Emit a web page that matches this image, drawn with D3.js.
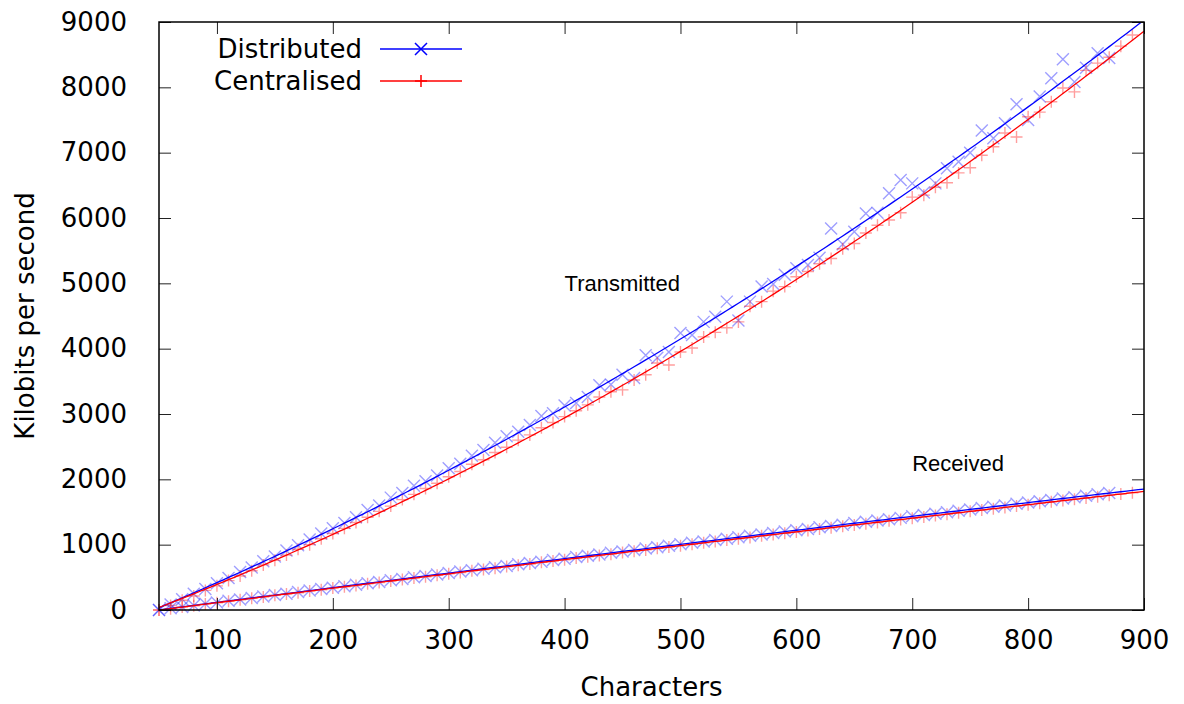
<!DOCTYPE html>
<html><head><meta charset="utf-8">
<script src="https://cdn.jsdelivr.net/npm/d3@7"></script>
<style>body{margin:0;background:#fff;} svg{display:block;}</style>
</head><body>
<svg id="c" width="1184" height="704"></svg>
<script>
// ---- data ----
const xDist = [50,60,70,80,90,100,110,120,130,140,150,160,170,180,190,200,210,220,230,240,250,260,270,280,290,300,310,320,330,340,350,360,370,380,390,400,410,420,430,440,450,460,470,480,490,500,510,520,530,540,550,560,570,580,590,600,610,620,630,640,650,660,670,680,690,700,710,720,730,740,750,760,770,780,790,800,810,820,830,840,850,860,870];
const xCent = [50,60,70,80,90,100,110,120,130,140,150,160,170,180,190,200,210,220,230,240,250,260,270,280,290,300,310,320,330,340,350,360,370,380,390,400,410,420,430,440,450,460,470,480,490,500,510,520,530,540,550,560,570,580,590,600,610,620,630,640,650,660,670,680,690,700,710,720,730,740,750,760,770,780,790,800,810,820,830,840,850,860,870,880,890];
const txDist = [0,85,165,250,320,410,490,580,650,745,820,910,990,1080,1170,1250,1330,1420,1530,1600,1720,1790,1900,1970,2060,2170,2240,2360,2450,2560,2660,2730,2830,2970,3010,3130,3170,3260,3440,3450,3600,3550,3900,3860,3950,4240,4210,4410,4490,4720,4430,4720,4950,4990,5130,5230,5280,5390,5840,5600,5790,6070,6080,6380,6580,6530,6390,6530,6760,6860,7000,7340,7220,7450,7740,7500,7860,8140,8430,8080,8300,8520,8450];
const txCent = [0,70,150,215,300,370,450,520,600,690,760,840,930,1000,1090,1170,1250,1340,1420,1510,1590,1690,1770,1860,1940,2040,2120,2230,2300,2410,2490,2600,2680,2790,2870,2960,3050,3140,3260,3340,3370,3520,3600,3780,3750,3950,4010,4180,4250,4320,4410,4650,4720,4880,4950,5100,5180,5300,5380,5530,5610,5770,5890,5970,6080,6320,6350,6470,6540,6690,6770,6960,7090,7300,7240,7550,7620,7780,7990,7930,8260,8370,8460,8630,8800];
const rxDist = [0,25,45,70,95,115,140,160,185,205,230,250,275,300,320,340,365,385,410,430,455,475,500,520,545,565,590,610,630,655,675,700,720,740,765,785,810,830,850,875,895,920,940,960,985,1005,1030,1050,1070,1090,1115,1135,1155,1180,1200,1220,1240,1265,1285,1305,1330,1350,1370,1390,1410,1435,1455,1475,1495,1520,1540,1560,1580,1600,1625,1645,1665,1685,1705,1725,1750,1770,1790];
const rxCent = [0,20,45,65,90,110,135,155,180,200,225,245,265,290,310,335,355,375,400,420,445,465,490,510,530,555,575,600,620,640,665,685,705,730,750,770,795,815,835,855,880,900,920,945,965,985,1005,1030,1050,1070,1090,1110,1135,1155,1175,1195,1215,1240,1260,1280,1300,1320,1340,1365,1385,1405,1425,1445,1465,1490,1510,1530,1550,1570,1590,1610,1635,1655,1675,1695,1715,1735,1755,1775,1795];
const xTicks = [100,200,300,400,500,600,700,800,900];
const yTicks = [0,1000,2000,3000,4000,5000,6000,7000,8000,9000];
const legendLabels = ["Distributed","Centralised"];
const annotations = [{text:"Transmitted", x:400, y:5000},{text:"Received", x:700, y:2250}];

// ---- layout ----
const L=159, R=1144, T=22, B=610;
const svg = d3.select("#c");
const x = d3.scaleLinear().domain([50,900]).range([L,R]);
const y = d3.scaleLinear().domain([0,9000]).range([B,T]);
const FONT = "'DejaVu Sans', sans-serif";
const FS = 26;

// quadratic least-squares fit
function quadFit(xs, ys){
  let S=[[0,0,0],[0,0,0],[0,0,0]], v=[0,0,0];
  xs.forEach((xi,i)=>{const p=[1,xi,xi*xi]; for(let a=0;a<3;a++){v[a]+=p[a]*ys[i]; for(let b=0;b<3;b++) S[a][b]+=p[a]*p[b];}});
  const M=S.map((r,i)=>[...r,v[i]]);
  for(let i=0;i<3;i++){let mx=i;for(let k=i+1;k<3;k++) if(Math.abs(M[k][i])>Math.abs(M[mx][i])) mx=k; [M[i],M[mx]]=[M[mx],M[i]];
    for(let k=i+1;k<3;k++){const f=M[k][i]/M[i][i]; for(let j=i;j<4;j++) M[k][j]-=f*M[i][j];}}
  const c=[0,0,0]; for(let i=2;i>=0;i--){let s=M[i][3]; for(let j=i+1;j<3;j++) s-=M[i][j]*c[j]; c[i]=s/M[i][i];}
  return t=>c[0]+c[1]*t+c[2]*t*t;
}
const fitX = d3.range(50, 900.1, 5);

const series = [
  {xs:xDist, ys:txDist, color:"#0000ff", marker:"x"},
  {xs:xCent, ys:txCent, color:"#ff0000", marker:"+"},
  {xs:xDist, ys:rxDist, color:"#0000ff", marker:"x"},
  {xs:xCent, ys:rxCent, color:"#ff0000", marker:"+"}
];

svg.append("clipPath").attr("id","pc").append("rect").attr("x",L).attr("y",T).attr("width",R-L).attr("height",B-T);

function markerPath(type, s){
  return type==="x" ? `M${-s},${-s}L${s},${s}M${-s},${s}L${s},${-s}` : `M${-s},0L${s},0M0,${-s}L0,${s}`;
}

const gMarks = svg.append("g");
series.forEach(sr=>{
  gMarks.append("g").selectAll("path").data(sr.xs.map((xv,i)=>[xv,sr.ys[i]])).join("path")
    .attr("transform",d=>`translate(${x(d[0])},${y(d[1])})`)
    .attr("d", markerPath(sr.marker, 6))
    .attr("stroke", sr.color).attr("stroke-opacity",0.38).attr("stroke-width",1.4).attr("fill","none");
});
const line = d3.line().x(d=>x(d[0])).y(d=>y(d[1]));
const gLines = svg.append("g").attr("clip-path","url(#pc)");
series.forEach(sr=>{
  const f = quadFit(sr.xs, sr.ys);
  gLines.append("path").datum(fitX.map(t=>[t,f(t)])).attr("d",line)
    .attr("fill","none").attr("stroke",sr.color).attr("stroke-width",1.3);
});

// axes (ticks inward, mirrored)
const tickLen = 12;
const gAx = svg.append("g");
const axB = d3.axisBottom(x).tickValues(xTicks).tickSize(-tickLen).tickPadding(tickLen+9).tickFormat(d3.format("d"));
const axT = d3.axisTop(x).tickValues(xTicks).tickSize(-tickLen).tickFormat("");
const axL = d3.axisLeft(y).tickValues(yTicks).tickSize(-tickLen).tickPadding(tickLen+20).tickFormat(d3.format("d"));
const axR = d3.axisRight(y).tickValues(yTicks).tickSize(-tickLen).tickFormat("");
gAx.append("g").attr("transform",`translate(0,${B})`).call(axB);
gAx.append("g").attr("transform",`translate(0,${T})`).call(axT);
gAx.append("g").attr("transform",`translate(${L},0)`).call(axL);
gAx.append("g").attr("transform",`translate(${R},0)`).call(axR);
gAx.selectAll(".domain").remove();
gAx.selectAll(".tick line").attr("stroke","#222").attr("stroke-width",1);
gAx.selectAll(".tick text").attr("font-family",FONT).attr("font-size",FS).attr("fill","#000");
svg.append("rect").attr("x",L).attr("y",T).attr("width",R-L).attr("height",B-T)
  .attr("fill","none").attr("stroke","#000").attr("stroke-width",1.5);

// axis titles
svg.append("text").attr("x",(L+R)/2).attr("y",696).attr("text-anchor","middle")
  .attr("font-family",FONT).attr("font-size",FS).text("Characters");
svg.append("text").attr("transform",`translate(34,${(T+B)/2}) rotate(-90)`).attr("text-anchor","middle")
  .attr("font-family",FONT).attr("font-size",FS).text("Kilobits per second");

// annotations
annotations.forEach(a=>{
  svg.append("text").attr("x",x(a.x)).attr("y",y(a.y)).attr("dy","0.35em")
    .attr("font-family","'Liberation Sans', Arial, sans-serif").attr("font-size",22).text(a.text);
});

// legend
const legColors=["#0000ff","#ff0000"], legMarks=["x","+"];
legendLabels.forEach((lab,i)=>{
  const cy = 49 + i*32;
  svg.append("text").attr("x",362).attr("y",cy).attr("dy","0.35em").attr("text-anchor","end")
    .attr("font-family",FONT).attr("font-size",FS).text(lab);
  svg.append("line").attr("x1",380).attr("x2",462).attr("y1",cy).attr("y2",cy).attr("stroke",legColors[i]).attr("stroke-width",1.3);
  svg.append("path").attr("transform",`translate(421,${cy})`).attr("d",markerPath(legMarks[i], 6))
    .attr("stroke",legColors[i]).attr("stroke-width",1.5).attr("fill","none");
});
</script>
</body></html>
